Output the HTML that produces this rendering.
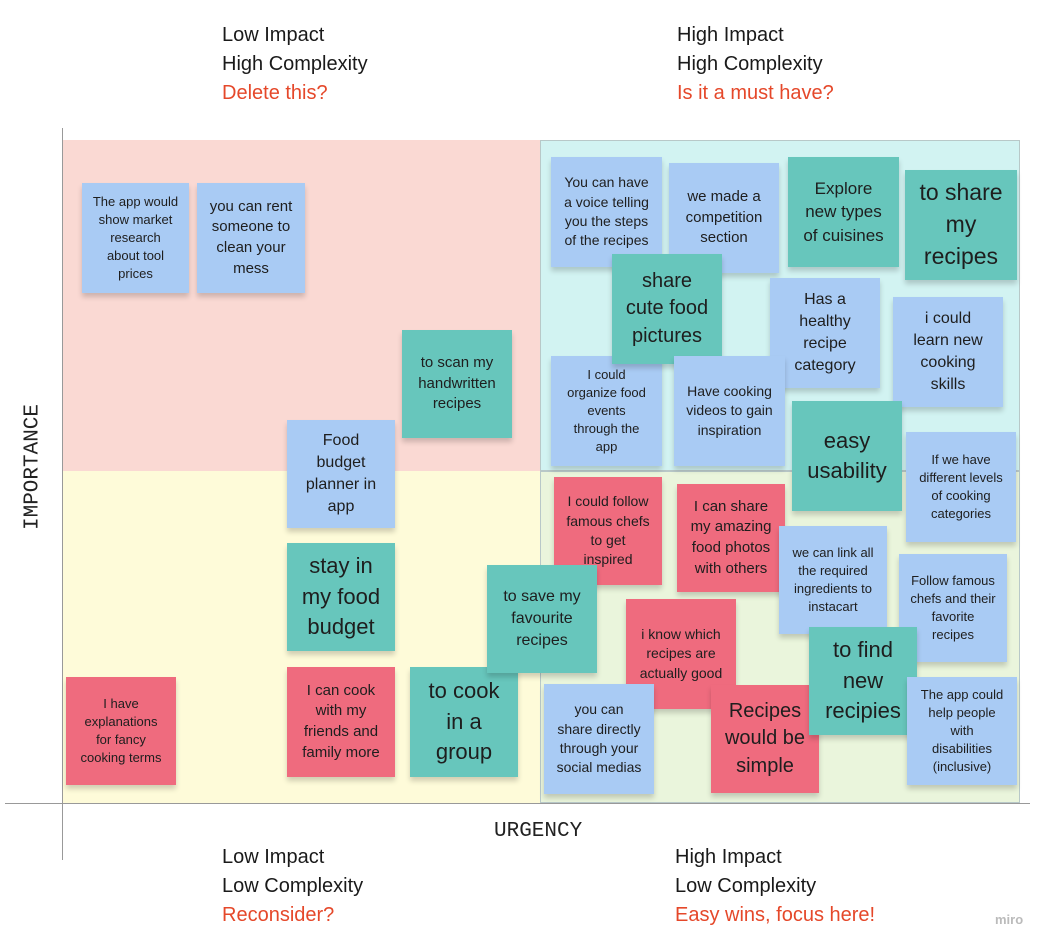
<!DOCTYPE html>
<html><head><meta charset="utf-8"><style>
body{margin:0;width:1053px;height:949px;background:#fff;position:relative;overflow:hidden;font-family:"Liberation Sans",sans-serif}
.q{position:absolute}
.h{position:absolute;font-size:20px;line-height:29px;color:#1a1a1a}
.h span{color:#e5482a}
.n{position:absolute;display:flex;align-items:center;justify-content:center;text-align:center;color:#1e1e1e;box-shadow:0 4px 5px rgba(0,0,0,.18);line-height:1.38;box-sizing:border-box;padding:2px;white-space:nowrap}
.b{background:#a9cbf4}.t{background:#67c6bc}.r{background:#ef6b7e}
.m{font-family:"Liberation Mono",monospace;font-size:21px;position:absolute;color:#222}
</style></head><body>
<div class="q" style="left:62px;top:140px;width:478px;height:331px;background:#fad9d3"></div>
<div class="q" style="left:540px;top:140px;width:480px;height:331px;background:#d2f3f2;border:1px solid #b8c8c8;box-sizing:border-box"></div>
<div class="q" style="left:62px;top:471px;width:478px;height:332px;background:#fefbd9"></div>
<div class="q" style="left:540px;top:471px;width:480px;height:332px;background:#eaf5dc;border:1px solid #b8c8c8;box-sizing:border-box"></div>
<div class="q" style="left:62px;top:128px;width:1px;height:732px;background:#999"></div>
<div class="q" style="left:5px;top:803px;width:1025px;height:1px;background:#999"></div>
<div class="m" style="left:33px;top:467px;transform:translate(-50%,-50%) rotate(-90deg)">IMPORTANCE</div>
<div class="m" style="left:494px;top:820px">URGENCY</div>
<div class="h" style="left:222px;top:21px">Low Impact<br>High Complexity<br><span>Delete this?</span></div>
<div class="h" style="left:677px;top:21px">High Impact<br>High Complexity<br><span>Is it a must have?</span></div>
<div class="h" style="left:222px;top:843px">Low Impact<br>Low Complexity<br><span>Reconsider?</span></div>
<div class="h" style="left:675px;top:843px">High Impact<br>Low Complexity<br><span>Easy wins, focus here!</span></div>
<div style="position:absolute;left:995px;top:912px;color:#bbb;font-size:13px;font-weight:bold">miro</div>

<div class="n b" style="left:82px;top:183px;width:107px;height:110px;font-size:13px">The app would<br>show market<br>research<br>about tool<br>prices</div>
<div class="n b" style="left:197px;top:183px;width:108px;height:110px;font-size:15px">you can rent<br>someone to<br>clean your<br>mess</div>
<div class="n t" style="left:402px;top:330px;width:110px;height:108px;font-size:15px">to scan my<br>handwritten<br>recipes</div>
<div class="n b" style="left:287px;top:420px;width:108px;height:108px;font-size:16px">Food<br>budget<br>planner in<br>app</div>
<div class="n t" style="left:287px;top:543px;width:108px;height:108px;font-size:22px">stay in<br>my food<br>budget</div>
<div class="n r" style="left:287px;top:667px;width:108px;height:110px;font-size:15px">I can cook<br>with my<br>friends and<br>family more</div>
<div class="n r" style="left:66px;top:677px;width:110px;height:108px;font-size:13px">I have<br>explanations<br>for fancy<br>cooking terms</div>
<div class="n t" style="left:410px;top:667px;width:108px;height:110px;font-size:22px">to cook<br>in a<br>group</div>

<div class="n b" style="left:551px;top:157px;width:111px;height:110px;font-size:14px">You can have<br>a voice telling<br>you the steps<br>of the recipes</div>
<div class="n b" style="left:669px;top:163px;width:110px;height:110px;font-size:15px">we made a<br>competition<br>section</div>
<div class="n t" style="left:788px;top:157px;width:111px;height:110px;font-size:17px">Explore<br>new types<br>of cuisines</div>
<div class="n t" style="left:905px;top:170px;width:112px;height:110px;font-size:23px">to share<br>my<br>recipes</div>
<div class="n b" style="left:551px;top:356px;width:111px;height:110px;font-size:13px">I could<br>organize food<br>events<br>through the<br>app</div>
<div class="n t" style="left:612px;top:254px;width:110px;height:110px;font-size:20px">share<br>cute food<br>pictures</div>
<div class="n b" style="left:770px;top:278px;width:110px;height:110px;font-size:16px">Has a<br>healthy<br>recipe<br>category</div>
<div class="n b" style="left:893px;top:297px;width:110px;height:110px;font-size:16px">i could<br>learn new<br>cooking<br>skills</div>
<div class="n b" style="left:674px;top:356px;width:111px;height:110px;font-size:14px">Have cooking<br>videos to gain<br>inspiration</div>
<div class="n t" style="left:792px;top:401px;width:110px;height:110px;font-size:22px">easy<br>usability</div>
<div class="n b" style="left:906px;top:432px;width:110px;height:110px;font-size:13px">If we have<br>different levels<br>of cooking<br>categories</div>

<div class="n r" style="left:554px;top:477px;width:108px;height:108px;font-size:14px">I could follow<br>famous chefs<br>to get<br>inspired</div>
<div class="n t" style="left:487px;top:565px;width:110px;height:108px;font-size:16px">to save my<br>favourite<br>recipes</div>
<div class="n r" style="left:677px;top:484px;width:108px;height:108px;font-size:15px">I can share<br>my amazing<br>food photos<br>with others</div>
<div class="n b" style="left:779px;top:526px;width:108px;height:108px;font-size:13px">we can link all<br>the required<br>ingredients to<br>instacart</div>
<div class="n b" style="left:899px;top:554px;width:108px;height:108px;font-size:13px">Follow famous<br>chefs and their<br>favorite<br>recipes</div>
<div class="n r" style="left:626px;top:599px;width:110px;height:110px;font-size:14px">i know which<br>recipes are<br>actually good</div>
<div class="n b" style="left:544px;top:684px;width:110px;height:110px;font-size:14px">you can<br>share directly<br>through your<br>social medias</div>
<div class="n r" style="left:711px;top:685px;width:108px;height:108px;font-size:20px">Recipes<br>would be<br>simple</div>
<div class="n t" style="left:809px;top:627px;width:108px;height:108px;font-size:22px">to find<br>new<br>recipies</div>
<div class="n b" style="left:907px;top:677px;width:110px;height:108px;font-size:13px">The app could<br>help people<br>with<br>disabilities<br>(inclusive)</div>
</body></html>
